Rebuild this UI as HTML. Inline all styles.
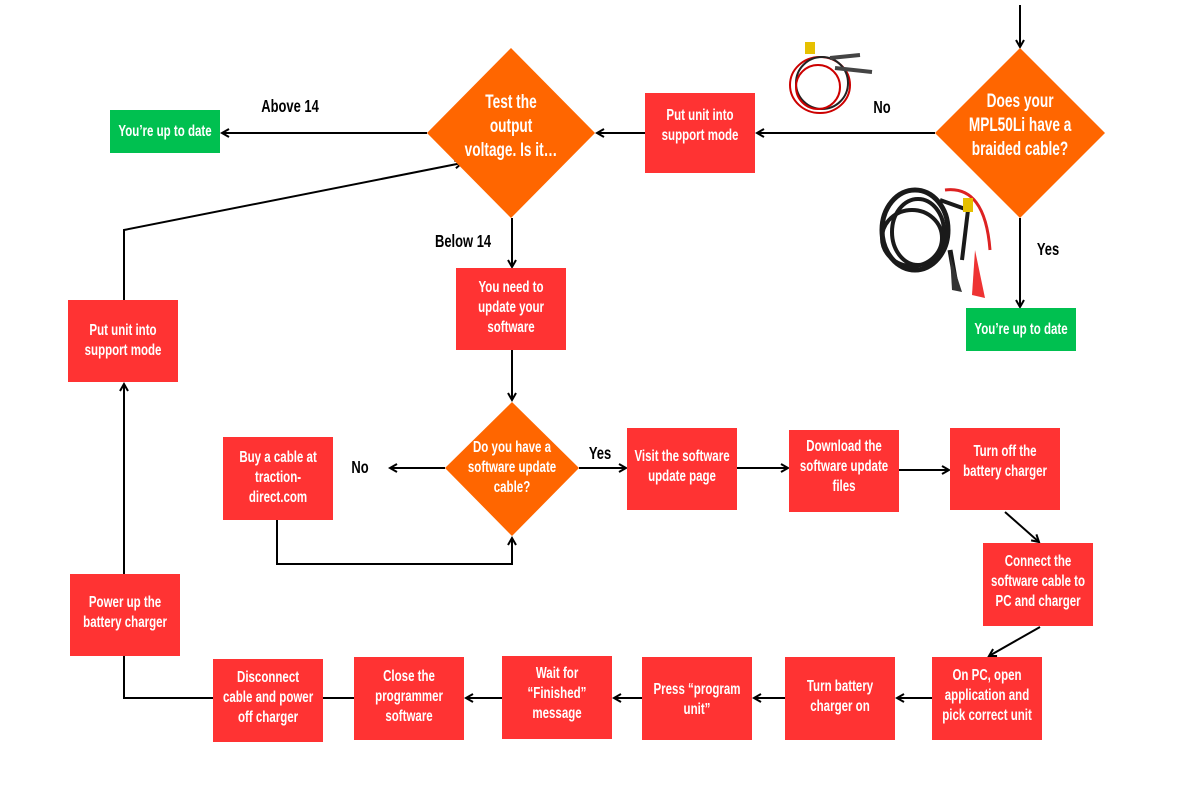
<!DOCTYPE html>
<html><head><meta charset="utf-8"><style>
html,body{margin:0;padding:0;background:#fff;}
svg{display:block}
text{font-family:"Liberation Sans",sans-serif;font-weight:bold;transform-box:fill-box;transform-origin:center;transform:scaleX(0.72);}
.w{fill:#fff;font-size:16px;text-anchor:middle}
.k{fill:#000;font-size:18px;text-anchor:middle}
.b{font-size:19px}
.l{stroke:#000;stroke-width:2;fill:none}
</style></head><body>
<svg width="1200" height="800" viewBox="0 0 1200 800" xmlns="http://www.w3.org/2000/svg">
<defs><marker id="a" markerWidth="10" markerHeight="10" refX="8" refY="5" orient="auto" markerUnits="userSpaceOnUse"><path d="M1,1 L8,5 L1,9" fill="none" stroke="#000" stroke-width="2"/></marker></defs>

<path class="l" d="M1020,5 V47" marker-end="url(#a)"/>
<path class="l" d="M935,133 H757" marker-end="url(#a)"/>
<path class="l" d="M645,133 H597" marker-end="url(#a)"/>
<path class="l" d="M427,133 H222" marker-end="url(#a)"/>
<path class="l" d="M1020,218 V307" marker-end="url(#a)"/>
<path class="l" d="M512,218 V267" marker-end="url(#a)"/>
<path class="l" d="M512,350 V400" marker-end="url(#a)"/>
<path class="l" d="M445,468 H390" marker-end="url(#a)"/>
<path class="l" d="M277,520 V564 H512 V538" marker-end="url(#a)"/>
<path class="l" d="M579,468 H626" marker-end="url(#a)"/>
<path class="l" d="M737,468 H788" marker-end="url(#a)"/>
<path class="l" d="M899,470 H949" marker-end="url(#a)"/>
<path class="l" d="M1005,512 L1039,542" marker-end="url(#a)"/>
<path class="l" d="M1040,627 L989,656" marker-end="url(#a)"/>
<path class="l" d="M932,698 H897" marker-end="url(#a)"/>
<path class="l" d="M785,698 H754" marker-end="url(#a)"/>
<path class="l" d="M642,698 H614" marker-end="url(#a)"/>
<path class="l" d="M502,698 H466" marker-end="url(#a)"/>
<path class="l" d="M354,698 H323"/>
<path class="l" d="M213,698 H124 V656"/>
<path class="l" d="M124,574 V384" marker-end="url(#a)"/>
<path class="l" d="M124,300 V230 L462,163" marker-end="url(#a)"/>

<text class="k" x="882" y="113">No</text>
<text class="k" x="290" y="112">Above 14</text>
<text class="k" x="463" y="247">Below 14</text>
<text class="k" x="1048" y="255">Yes</text>
<text class="k" x="360" y="473">No</text>
<text class="k" x="600" y="459">Yes</text>

<polygon points="1020,48 1105,133 1020,218 935,133" fill="#ff6600"/>
<text class="w b" x="1020" y="107">Does your</text>
<text class="w b" x="1020" y="131">MPL50Li have a</text>
<text class="w b" x="1020" y="155">braided cable?</text>
<polygon points="511,48 595,133 511,218 427,133" fill="#ff6600"/>
<text class="w b" x="511" y="108">Test the</text>
<text class="w b" x="511" y="132">output</text>
<text class="w b" x="511" y="156">voltage. Is it…</text>
<polygon points="512,402 579,468 512,536 445,468" fill="#ff6600"/>
<text class="w" x="512" y="452">Do you have a</text>
<text class="w" x="512" y="472">software update</text>
<text class="w" x="512" y="492">cable?</text>

<rect x="110" y="110" width="110" height="43" fill="#00c050"/>
<text class="w" x="165" y="136">You’re up to date</text>
<rect x="966" y="308" width="110" height="43" fill="#00c050"/>
<text class="w" x="1021" y="334">You’re up to date</text>

<g fill="#ff3333">
<rect x="645" y="93" width="110" height="80"/>
<rect x="456" y="268" width="110" height="82"/>
<rect x="223" y="437" width="110" height="83"/>
<rect x="627" y="428" width="110" height="82"/>
<rect x="789" y="430" width="110" height="82"/>
<rect x="950" y="428" width="110" height="82"/>
<rect x="983" y="543" width="110" height="83"/>
<rect x="932" y="657" width="110" height="83"/>
<rect x="785" y="657" width="110" height="83"/>
<rect x="642" y="657" width="110" height="83"/>
<rect x="502" y="656" width="110" height="83"/>
<rect x="354" y="657" width="110" height="83"/>
<rect x="213" y="659" width="110" height="83"/>
<rect x="70" y="574" width="110" height="82"/>
<rect x="68" y="300" width="110" height="82"/>
</g>
<text class="w" x="700" y="120">Put unit into</text><text class="w" x="700" y="140">support mode</text>
<text class="w" x="511" y="292">You need to</text><text class="w" x="511" y="312">update your</text><text class="w" x="511" y="332">software</text>
<text class="w" x="278" y="462">Buy a cable at</text><text class="w" x="278" y="482">traction-</text><text class="w" x="278" y="502">direct.com</text>
<text class="w" x="682" y="461">Visit the software</text><text class="w" x="682" y="481">update page</text>
<text class="w" x="844" y="451">Download the</text><text class="w" x="844" y="471">software update</text><text class="w" x="844" y="491">files</text>
<text class="w" x="1005" y="456">Turn off the</text><text class="w" x="1005" y="476">battery charger</text>
<text class="w" x="1038" y="566">Connect the</text><text class="w" x="1038" y="586">software cable to</text><text class="w" x="1038" y="606">PC and charger</text>
<text class="w" x="987" y="680">On PC, open</text><text class="w" x="987" y="700">application and</text><text class="w" x="987" y="720">pick correct unit</text>
<text class="w" x="840" y="691">Turn battery</text><text class="w" x="840" y="711">charger on</text>
<text class="w" x="697" y="694">Press “program</text><text class="w" x="697" y="714">unit”</text>
<text class="w" x="557" y="678">Wait for</text><text class="w" x="557" y="698">“Finished”</text><text class="w" x="557" y="718">message</text>
<text class="w" x="409" y="681">Close the</text><text class="w" x="409" y="701">programmer</text><text class="w" x="409" y="721">software</text>
<text class="w" x="268" y="682">Disconnect</text><text class="w" x="268" y="702">cable and power</text><text class="w" x="268" y="722">off charger</text>
<text class="w" x="125" y="607">Power up the</text><text class="w" x="125" y="627">battery charger</text>
<text class="w" x="123" y="335">Put unit into</text><text class="w" x="123" y="355">support mode</text>

<g fill="none" stroke-width="2">
<ellipse cx="820" cy="85" rx="30" ry="28" stroke="#c00"/>
<ellipse cx="822" cy="83" rx="26" ry="26" stroke="#222"/>
<ellipse cx="818" cy="87" rx="22" ry="22" stroke="#c00"/>
<path d="M830,58 L860,55" stroke="#444" stroke-width="4"/>
<path d="M835,68 L872,72" stroke="#444" stroke-width="4"/>
</g>
<rect x="805" y="42" width="10" height="12" fill="#e6c000"/>
<g fill="none" stroke="#1a1a1a">
<ellipse cx="915" cy="230" rx="33" ry="40" stroke-width="5"/>
<ellipse cx="918" cy="232" rx="26" ry="33" stroke-width="4"/>
<ellipse cx="912" cy="238" rx="30" ry="28" stroke-width="4"/>
<path d="M940,200 L968,210 L962,260" stroke-width="4"/>
<path d="M950,250 L957,290" stroke-width="5"/>
</g>
<path d="M945,190 Q985,185 990,250" fill="none" stroke="#d22" stroke-width="3"/>
<rect x="963" y="198" width="10" height="14" fill="#e6c000"/>
<path d="M975,250 L985,298 L972,295 Z" fill="#e33"/>
<path d="M950,255 L962,292 L952,290 Z" fill="#333"/>
</svg>
</body></html>
